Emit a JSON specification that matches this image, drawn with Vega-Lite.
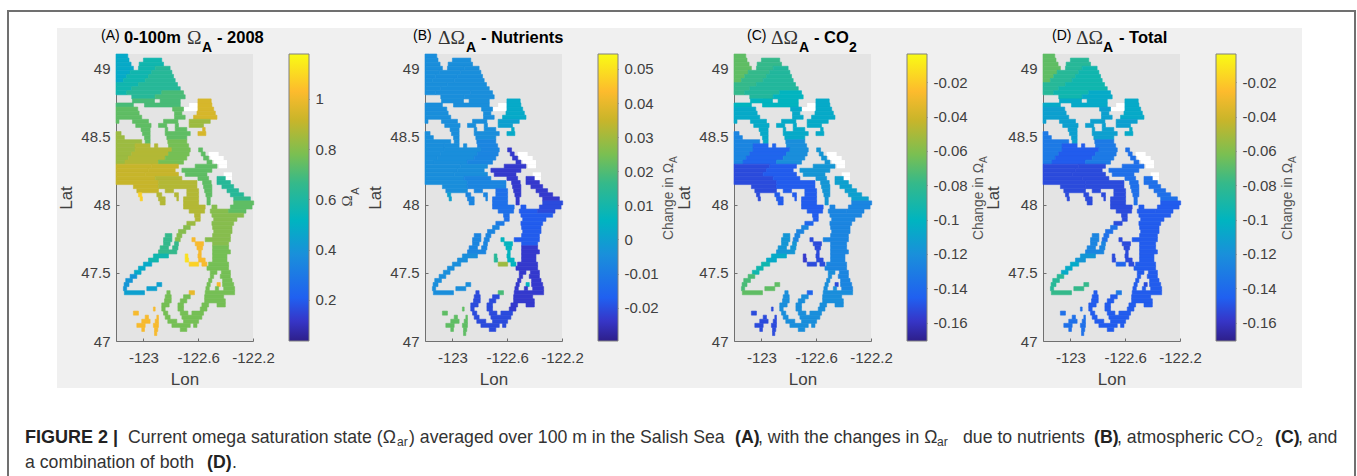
{"$schema":"https://vega.github.io/schema/vega-lite/v6.json","background":"white","padding":{"left":0,"top":9,"right":0,"bottom":0},"spacing":36,"bounds":"flush","resolve":{"scale":{"color":"independent","stroke":"independent"}},
"config":{"view":{"stroke":null},"text":{"align":"left","baseline":"middle","font":"Liberation Sans"},"axis":{"grid":false,"labelFont":"Liberation Sans","labelFontSize":15,"labelColor":"#404040","titleFont":"Liberation Sans","titleFontSize":17,"titleFontWeight":"normal","titleColor":"#404040","domainColor":"#707070","tickColor":"#707070","tickSize":-3,"labelPadding":9,"labelFlush":false,"labelOverlap":false}},
"datasets":{
"zones":[{"z":"n1","a":0.5,"b":-0.006,"c":-0.068,"d":-0.07},{"z":"n2","a":0.57,"b":-0.006,"c":-0.08,"d":-0.085},{"z":"n3","a":0.63,"b":-0.006,"c":-0.09,"d":-0.095},{"z":"n4","a":0.68,"b":-0.006,"c":-0.098,"d":-0.103},{"z":"n5","a":0.72,"b":-0.006,"c":-0.103,"d":-0.108},{"z":"bell","a":0.93,"b":0.002,"c":-0.105,"d":-0.105},{"z":"bel2","a":0.85,"b":0.001,"c":-0.105,"d":-0.108},{"z":"j1","a":0.84,"b":-0.006,"c":-0.125,"d":-0.13},{"z":"j2","a":0.87,"b":-0.006,"c":-0.14,"d":-0.145},{"z":"j3","a":0.78,"b":-0.007,"c":-0.122,"d":-0.13},{"z":"j4","a":0.92,"b":-0.006,"c":-0.15,"d":-0.155},{"z":"j5","a":0.9,"b":-0.006,"c":-0.148,"d":-0.155},{"z":"j6","a":0.88,"b":-0.008,"c":-0.148,"d":-0.155},{"z":"w1","a":0.72,"b":-0.022,"c":-0.115,"d":-0.135},{"z":"ps","a":0.62,"b":-0.024,"c":-0.108,"d":-0.135},{"z":"ps2","a":0.67,"b":-0.024,"c":-0.11,"d":-0.135},{"z":"p","a":0.72,"b":-0.021,"c":-0.125,"d":-0.145},{"z":"adm","a":0.88,"b":-0.012,"c":-0.145,"d":-0.155},{"z":"adm2","a":0.85,"b":-0.009,"c":-0.14,"d":-0.15},{"z":"h1","a":0.8,"b":-0.008,"c":-0.125,"d":-0.135},{"z":"h2","a":0.65,"b":-0.007,"c":-0.115,"d":-0.125},{"z":"h3","a":0.56,"b":-0.006,"c":-0.105,"d":-0.115},{"z":"h4","a":0.48,"b":-0.006,"c":-0.095,"d":-0.105},{"z":"h5","a":0.4,"b":-0.006,"c":-0.075,"d":-0.085},{"z":"h6","a":0.43,"b":-0.006,"c":-0.07,"d":-0.08},{"z":"m1","a":0.8,"b":-0.017,"c":-0.128,"d":-0.145},{"z":"m2","a":0.78,"b":-0.022,"c":-0.125,"d":-0.147},{"z":"m3","a":0.76,"b":-0.023,"c":-0.123,"d":-0.147},{"z":"c1","a":0.76,"b":-0.021,"c":-0.122,"d":-0.145},{"z":"s1","a":1.02,"b":0.006,"c":-0.155,"d":-0.15},{"z":"s2","a":1.1,"b":0.03,"c":-0.155,"d":-0.14},{"z":"sy","a":1.14,"b":0.013,"c":-0.16,"d":-0.15},{"z":"s3","a":1.0,"b":0.02,"c":-0.14,"d":-0.13},{"z":"inl","a":1.1,"b":0.0,"c":-0.155,"d":-0.155},{"z":"in","a":1.03,"b":0.022,"c":-0.15,"d":-0.135}],
"flats":[{"w":-122.666,"e":-122.6,"n":48.75,"s":48.72},{"w":-122.707,"e":-122.6,"n":48.72,"s":48.69},{"w":-122.524,"e":-122.451,"n":48.39,"s":48.36},{"w":-122.512,"e":-122.414,"n":48.36,"s":48.33},{"w":-122.487,"e":-122.39,"n":48.33,"s":48.3},{"w":-122.451,"e":-122.39,"n":48.3,"s":48.27},{"w":-122.414,"e":-122.353,"n":48.24,"s":48.21},{"w":-122.414,"e":-122.353,"n":48.21,"s":48.18}],
"sea":[
{"w":-123.2,"e":-123.114,"n":49.11,"s":49.08,"z":"n1"},
{"w":-123.2,"e":-123.105,"n":49.08,"s":49.05,"z":"n1"},{"w":-123,"e":-122.866,"n":49.08,"s":49.05,"z":"n2"},
{"w":-123.2,"e":-123.09,"n":49.05,"s":49.02,"z":"n1"},{"w":-123.031,"e":-122.853,"n":49.05,"s":49.02,"z":"n2"},
{"w":-123.2,"e":-123.073,"n":49.02,"s":48.99,"z":"n1"},{"w":-123.036,"e":-122.914,"n":49.02,"s":48.99,"z":"n2"},{"w":-122.914,"e":-122.805,"n":49.02,"s":48.99,"z":"n3"},
{"w":-123.2,"e":-123.097,"n":48.99,"s":48.96,"z":"n1"},{"w":-123.097,"e":-122.939,"n":48.99,"s":48.96,"z":"n2"},{"w":-122.939,"e":-122.792,"n":48.99,"s":48.96,"z":"n3"},
{"w":-123.2,"e":-123.122,"n":48.96,"s":48.93,"z":"n1"},{"w":-123.122,"e":-122.963,"n":48.96,"s":48.93,"z":"n2"},{"w":-122.963,"e":-122.78,"n":48.96,"s":48.93,"z":"n3"},
{"w":-123.2,"e":-123.146,"n":48.93,"s":48.9,"z":"n1"},{"w":-123.146,"e":-122.987,"n":48.93,"s":48.9,"z":"n2"},{"w":-122.987,"e":-122.768,"n":48.93,"s":48.9,"z":"n3"},
{"w":-123.2,"e":-123.036,"n":48.9,"s":48.87,"z":"n2"},{"w":-123.036,"e":-122.751,"n":48.9,"s":48.87,"z":"n3"},
{"w":-123.2,"e":-123.085,"n":48.87,"s":48.84,"z":"n2"},{"w":-123.085,"e":-122.731,"n":48.87,"s":48.84,"z":"n3"},
{"w":-123.2,"e":-123.122,"n":48.84,"s":48.81,"z":"n2"},{"w":-123.122,"e":-122.866,"n":48.84,"s":48.81,"z":"n3"},{"w":-122.866,"e":-122.707,"n":48.84,"s":48.81,"z":"n4"},
{"w":-123.085,"e":-122.914,"n":48.81,"s":48.78,"z":"n3"},{"w":-122.914,"e":-122.695,"n":48.81,"s":48.78,"z":"n4"},
{"w":-123.08,"e":-122.919,"n":48.78,"s":48.75,"z":"n4"},{"w":-122.878,"e":-122.731,"n":48.78,"s":48.75,"z":"n4"},{"w":-122.602,"e":-122.505,"n":48.78,"s":48.75,"z":"bell"},
{"w":-123.2,"e":-123.073,"n":48.75,"s":48.72,"z":"n4"},{"w":-122.992,"e":-122.731,"n":48.75,"s":48.72,"z":"n4"},{"w":-122.602,"e":-122.5,"n":48.75,"s":48.72,"z":"bell"},
{"w":-123.2,"e":-123.041,"n":48.72,"s":48.69,"z":"n5"},{"w":-122.787,"e":-122.707,"n":48.72,"s":48.69,"z":"n5"},{"w":-122.602,"e":-122.487,"n":48.72,"s":48.69,"z":"bell"},
{"w":-123.2,"e":-123.031,"n":48.69,"s":48.66,"z":"n5"},{"w":-122.773,"e":-122.719,"n":48.69,"s":48.66,"z":"n5"},{"w":-122.609,"e":-122.475,"n":48.69,"s":48.66,"z":"bell"},
{"w":-123.2,"e":-123.012,"n":48.66,"s":48.63,"z":"n5"},{"w":-122.773,"e":-122.695,"n":48.66,"s":48.63,"z":"n5"},{"w":-122.634,"e":-122.463,"n":48.66,"s":48.63,"z":"bell"},
{"w":-123.2,"e":-123.178,"n":48.63,"s":48.6,"z":"n5"},{"w":-123.08,"e":-122.963,"n":48.63,"s":48.6,"z":"n5"},{"w":-122.853,"e":-122.748,"n":48.63,"s":48.6,"z":"n5"},{"w":-122.666,"e":-122.512,"n":48.63,"s":48.6,"z":"bel2"},
{"w":-123.056,"e":-122.944,"n":48.6,"s":48.57,"z":"n5"},{"w":-122.89,"e":-122.829,"n":48.6,"s":48.57,"z":"n5"},{"w":-122.768,"e":-122.744,"n":48.6,"s":48.57,"z":"n5"},{"w":-122.666,"e":-122.561,"n":48.6,"s":48.57,"z":"bel2"},
{"w":-123.017,"e":-122.951,"n":48.57,"s":48.54,"z":"n5"},{"w":-122.841,"e":-122.822,"n":48.57,"s":48.54,"z":"n5"},{"w":-122.768,"e":-122.683,"n":48.57,"s":48.54,"z":"n5"},{"w":-122.568,"e":-122.549,"n":48.57,"s":48.54,"z":"bell"},
{"w":-123.2,"e":-123.163,"n":48.54,"s":48.51,"z":"j1"},{"w":-123.007,"e":-122.951,"n":48.54,"s":48.51,"z":"n5"},{"w":-122.841,"e":-122.658,"n":48.54,"s":48.51,"z":"n5"},{"w":-122.602,"e":-122.544,"n":48.54,"s":48.51,"z":"bell"},
{"w":-123.2,"e":-123.139,"n":48.51,"s":48.48,"z":"j1"},{"w":-122.992,"e":-122.951,"n":48.51,"s":48.48,"z":"n5"},{"w":-122.829,"e":-122.683,"n":48.51,"s":48.48,"z":"n5"},
{"w":-123.2,"e":-123.012,"n":48.48,"s":48.45,"z":"j1"},{"w":-122.987,"e":-122.951,"n":48.48,"s":48.45,"z":"n5"},{"w":-122.822,"e":-122.683,"n":48.48,"s":48.45,"z":"j3"},
{"w":-123.2,"e":-123.061,"n":48.45,"s":48.42,"z":"j1"},{"w":-123.061,"e":-122.951,"n":48.45,"s":48.42,"z":"j2"},{"w":-122.919,"e":-122.895,"n":48.45,"s":48.42,"z":"j2"},{"w":-122.817,"e":-122.67,"n":48.45,"s":48.42,"z":"j3"},
{"w":-123.2,"e":-123.061,"n":48.42,"s":48.39,"z":"j1"},{"w":-123.061,"e":-122.792,"n":48.42,"s":48.39,"z":"j2"},{"w":-122.792,"e":-122.658,"n":48.42,"s":48.39,"z":"j3"},{"w":-122.597,"e":-122.568,"n":48.42,"s":48.39,"z":"w1"},
{"w":-123.2,"e":-123.085,"n":48.39,"s":48.36,"z":"j1"},{"w":-123.085,"e":-122.817,"n":48.39,"s":48.36,"z":"j2"},{"w":-122.817,"e":-122.666,"n":48.39,"s":48.36,"z":"j3"},{"w":-122.578,"e":-122.549,"n":48.39,"s":48.36,"z":"w1"},
{"w":-123.2,"e":-123.11,"n":48.36,"s":48.33,"z":"j1"},{"w":-123.11,"e":-122.841,"n":48.36,"s":48.33,"z":"j2"},{"w":-122.841,"e":-122.683,"n":48.36,"s":48.33,"z":"j3"},{"w":-122.561,"e":-122.524,"n":48.36,"s":48.33,"z":"w1"},
{"w":-123.2,"e":-123.134,"n":48.33,"s":48.3,"z":"j1"},{"w":-123.134,"e":-122.89,"n":48.33,"s":48.3,"z":"j2"},{"w":-122.89,"e":-122.707,"n":48.33,"s":48.3,"z":"j3"},{"w":-122.536,"e":-122.5,"n":48.33,"s":48.3,"z":"w1"},
{"w":-123.2,"e":-122.939,"n":48.3,"s":48.27,"z":"j4"},{"w":-122.939,"e":-122.744,"n":48.3,"s":48.27,"z":"j5"},{"w":-122.622,"e":-122.463,"n":48.3,"s":48.27,"z":"w1"},
{"w":-123.2,"e":-122.963,"n":48.27,"s":48.24,"z":"j4"},{"w":-122.963,"e":-122.768,"n":48.27,"s":48.24,"z":"j5"},{"w":-122.719,"e":-122.5,"n":48.27,"s":48.24,"z":"w1"},
{"w":-123.2,"e":-122.987,"n":48.24,"s":48.21,"z":"j4"},{"w":-122.987,"e":-122.744,"n":48.24,"s":48.21,"z":"j5"},{"w":-122.695,"e":-122.536,"n":48.24,"s":48.21,"z":"w1"},
{"w":-123.2,"e":-122.914,"n":48.21,"s":48.18,"z":"j4"},{"w":-122.914,"e":-122.719,"n":48.21,"s":48.18,"z":"j6"},{"w":-122.602,"e":-122.524,"n":48.21,"s":48.18,"z":"w1"},{"w":-122.463,"e":-122.402,"n":48.21,"s":48.18,"z":"ps"},
{"w":-123.2,"e":-122.89,"n":48.18,"s":48.15,"z":"j4"},{"w":-122.89,"e":-122.609,"n":48.18,"s":48.15,"z":"j6"},{"w":-122.568,"e":-122.505,"n":48.18,"s":48.15,"z":"w1"},{"w":-122.463,"e":-122.365,"n":48.18,"s":48.15,"z":"ps"},
{"w":-123.073,"e":-122.89,"n":48.15,"s":48.12,"z":"j4"},{"w":-122.89,"e":-122.609,"n":48.15,"s":48.12,"z":"j6"},{"w":-122.561,"e":-122.5,"n":48.15,"s":48.12,"z":"w1"},{"w":-122.427,"e":-122.341,"n":48.15,"s":48.12,"z":"ps"},
{"w":-123.048,"e":-122.89,"n":48.12,"s":48.09,"z":"j4"},{"w":-122.841,"e":-122.78,"n":48.12,"s":48.09,"z":"j6"},{"w":-122.683,"e":-122.597,"n":48.12,"s":48.09,"z":"adm"},{"w":-122.553,"e":-122.5,"n":48.12,"s":48.09,"z":"w1"},{"w":-122.39,"e":-122.305,"n":48.12,"s":48.09,"z":"ps"},
{"w":-123.036,"e":-123.012,"n":48.09,"s":48.06,"z":"inl"},{"w":-122.902,"e":-122.866,"n":48.09,"s":48.06,"z":"j6"},{"w":-122.773,"e":-122.744,"n":48.09,"s":48.06,"z":"j6"},{"w":-122.683,"e":-122.597,"n":48.09,"s":48.06,"z":"adm"},{"w":-122.544,"e":-122.5,"n":48.09,"s":48.06,"z":"w1"},{"w":-122.365,"e":-122.268,"n":48.09,"s":48.06,"z":"ps"},
{"w":-123.024,"e":-123.007,"n":48.06,"s":48.03,"z":"inl"},{"w":-122.89,"e":-122.841,"n":48.06,"s":48.03,"z":"j6"},{"w":-122.756,"e":-122.744,"n":48.06,"s":48.03,"z":"j6"},{"w":-122.707,"e":-122.597,"n":48.06,"s":48.03,"z":"adm"},{"w":-122.536,"e":-122.512,"n":48.06,"s":48.03,"z":"w1"},{"w":-122.341,"e":-122.219,"n":48.06,"s":48.03,"z":"ps2"},
{"w":-122.878,"e":-122.841,"n":48.03,"s":48.0,"z":"j6"},{"w":-122.707,"e":-122.597,"n":48.03,"s":48.0,"z":"adm"},{"w":-122.536,"e":-122.512,"n":48.03,"s":48.0,"z":"w1"},{"w":-122.341,"e":-122.195,"n":48.03,"s":48.0,"z":"p"},
{"w":-122.707,"e":-122.549,"n":48.0,"s":47.97,"z":"adm"},{"w":-122.5,"e":-122.463,"n":48.0,"s":47.97,"z":"m1"},{"w":-122.365,"e":-122.207,"n":48.0,"s":47.97,"z":"p"},
{"w":-122.666,"e":-122.553,"n":47.97,"s":47.94,"z":"adm"},{"w":-122.512,"e":-122.378,"n":47.97,"s":47.94,"z":"m1"},{"w":-122.378,"e":-122.251,"n":47.97,"s":47.94,"z":"p"},
{"w":-122.627,"e":-122.585,"n":47.94,"s":47.91,"z":"adm"},{"w":-122.5,"e":-122.268,"n":47.94,"s":47.91,"z":"m1"},
{"w":-122.622,"e":-122.585,"n":47.91,"s":47.88,"z":"adm"},{"w":-122.487,"e":-122.317,"n":47.91,"s":47.88,"z":"m1"},
{"w":-122.683,"e":-122.622,"n":47.88,"s":47.85,"z":"adm2"},{"w":-122.5,"e":-122.341,"n":47.88,"s":47.85,"z":"m1"},
{"w":-122.707,"e":-122.658,"n":47.85,"s":47.82,"z":"h1"},{"w":-122.495,"e":-122.353,"n":47.85,"s":47.82,"z":"m1"},
{"w":-122.744,"e":-122.69,"n":47.82,"s":47.79,"z":"h1"},{"w":-122.487,"e":-122.353,"n":47.82,"s":47.79,"z":"m1"},
{"w":-122.841,"e":-122.792,"n":47.79,"s":47.76,"z":"h2"},{"w":-122.756,"e":-122.719,"n":47.79,"s":47.76,"z":"h1"},{"w":-122.495,"e":-122.365,"n":47.79,"s":47.76,"z":"m1"},
{"w":-122.853,"e":-122.792,"n":47.76,"s":47.73,"z":"h2"},{"w":-122.768,"e":-122.731,"n":47.76,"s":47.73,"z":"h1"},{"w":-122.646,"e":-122.622,"n":47.76,"s":47.73,"z":"s1"},{"w":-122.549,"e":-122.365,"n":47.76,"s":47.73,"z":"m1"},
{"w":-122.853,"e":-122.805,"n":47.73,"s":47.7,"z":"h2"},{"w":-122.773,"e":-122.744,"n":47.73,"s":47.7,"z":"h2"},{"w":-122.622,"e":-122.561,"n":47.73,"s":47.7,"z":"s1"},{"w":-122.495,"e":-122.378,"n":47.73,"s":47.7,"z":"m1"},
{"w":-122.878,"e":-122.817,"n":47.7,"s":47.67,"z":"h2"},{"w":-122.787,"e":-122.748,"n":47.7,"s":47.67,"z":"h2"},{"w":-122.609,"e":-122.568,"n":47.7,"s":47.67,"z":"s1"},{"w":-122.495,"e":-122.378,"n":47.7,"s":47.67,"z":"m2"},
{"w":-122.89,"e":-122.756,"n":47.67,"s":47.64,"z":"h2"},{"w":-122.597,"e":-122.578,"n":47.67,"s":47.64,"z":"s1"},{"w":-122.495,"e":-122.365,"n":47.67,"s":47.64,"z":"m2"},
{"w":-122.927,"e":-122.817,"n":47.64,"s":47.61,"z":"h3"},{"w":-122.695,"e":-122.675,"n":47.64,"s":47.61,"z":"sy"},{"w":-122.602,"e":-122.578,"n":47.64,"s":47.61,"z":"s1"},{"w":-122.495,"e":-122.39,"n":47.64,"s":47.61,"z":"m2"},
{"w":-122.963,"e":-122.89,"n":47.61,"s":47.58,"z":"h3"},{"w":-122.695,"e":-122.67,"n":47.61,"s":47.58,"z":"sy"},{"w":-122.597,"e":-122.549,"n":47.61,"s":47.58,"z":"s1"},{"w":-122.495,"e":-122.39,"n":47.61,"s":47.58,"z":"m2"},
{"w":-123,"e":-122.939,"n":47.58,"s":47.55,"z":"h4"},{"w":-122.666,"e":-122.597,"n":47.58,"s":47.55,"z":"s2"},{"w":-122.573,"e":-122.536,"n":47.58,"s":47.55,"z":"s1"},{"w":-122.524,"e":-122.378,"n":47.58,"s":47.55,"z":"m2"},
{"w":-123.036,"e":-122.987,"n":47.55,"s":47.52,"z":"h4"},{"w":-122.536,"e":-122.378,"n":47.55,"s":47.52,"z":"m2"},
{"w":-123.066,"e":-123.017,"n":47.52,"s":47.49,"z":"h4"},{"w":-122.512,"e":-122.463,"n":47.52,"s":47.49,"z":"m3"},{"w":-122.431,"e":-122.365,"n":47.52,"s":47.49,"z":"m2"},
{"w":-123.097,"e":-123.048,"n":47.49,"s":47.46,"z":"h5"},{"w":-122.512,"e":-122.487,"n":47.49,"s":47.46,"z":"m3"},{"w":-122.439,"e":-122.365,"n":47.49,"s":47.46,"z":"m2"},
{"w":-123.129,"e":-123.08,"n":47.46,"s":47.43,"z":"h5"},{"w":-122.524,"e":-122.5,"n":47.46,"s":47.43,"z":"m3"},{"w":-122.422,"e":-122.353,"n":47.46,"s":47.43,"z":"m2"},
{"w":-123.141,"e":-123.105,"n":47.43,"s":47.4,"z":"h5"},{"w":-122.902,"e":-122.866,"n":47.43,"s":47.4,"z":"h6"},{"w":-122.536,"e":-122.512,"n":47.43,"s":47.4,"z":"m3"},{"w":-122.463,"e":-122.439,"n":47.43,"s":47.4,"z":"s1"},{"w":-122.422,"e":-122.341,"n":47.43,"s":47.4,"z":"m2"},
{"w":-123.146,"e":-123.122,"n":47.4,"s":47.37,"z":"h5"},{"w":-122.975,"e":-122.902,"n":47.4,"s":47.37,"z":"h6"},{"w":-122.544,"e":-122.519,"n":47.4,"s":47.37,"z":"m3"},{"w":-122.475,"e":-122.451,"n":47.4,"s":47.37,"z":"m3"},{"w":-122.414,"e":-122.334,"n":47.4,"s":47.37,"z":"m2"},
{"w":-123.139,"e":-122.992,"n":47.37,"s":47.34,"z":"h6"},{"w":-122.829,"e":-122.805,"n":47.37,"s":47.34,"z":"c1"},{"w":-122.666,"e":-122.627,"n":47.37,"s":47.34,"z":"s3"},{"w":-122.549,"e":-122.334,"n":47.37,"s":47.34,"z":"m3"},
{"w":-122.841,"e":-122.797,"n":47.34,"s":47.31,"z":"c1"},{"w":-122.707,"e":-122.658,"n":47.34,"s":47.31,"z":"c1"},{"w":-122.553,"e":-122.414,"n":47.34,"s":47.31,"z":"m3"},
{"w":-122.846,"e":-122.797,"n":47.31,"s":47.28,"z":"c1"},{"w":-122.731,"e":-122.683,"n":47.31,"s":47.28,"z":"c1"},{"w":-122.553,"e":-122.402,"n":47.31,"s":47.28,"z":"m3"},
{"w":-122.866,"e":-122.812,"n":47.28,"s":47.25,"z":"c1"},{"w":-122.748,"e":-122.707,"n":47.28,"s":47.25,"z":"c1"},{"w":-122.573,"e":-122.524,"n":47.28,"s":47.25,"z":"m3"},{"w":-122.463,"e":-122.402,"n":47.28,"s":47.25,"z":"m3"},
{"w":-122.927,"e":-122.914,"n":47.25,"s":47.22,"z":"in"},{"w":-122.866,"e":-122.841,"n":47.25,"s":47.22,"z":"c1"},{"w":-122.748,"e":-122.707,"n":47.25,"s":47.22,"z":"c1"},{"w":-122.585,"e":-122.536,"n":47.25,"s":47.22,"z":"m3"},
{"w":-123.073,"e":-123.036,"n":47.22,"s":47.19,"z":"in"},{"w":-122.853,"e":-122.822,"n":47.22,"s":47.19,"z":"c1"},{"w":-122.731,"e":-122.675,"n":47.22,"s":47.19,"z":"c1"},{"w":-122.646,"e":-122.561,"n":47.22,"s":47.19,"z":"c1"},
{"w":-122.987,"e":-122.963,"n":47.19,"s":47.16,"z":"in"},{"w":-122.902,"e":-122.89,"n":47.19,"s":47.16,"z":"in"},{"w":-122.841,"e":-122.805,"n":47.19,"s":47.16,"z":"c1"},{"w":-122.719,"e":-122.573,"n":47.19,"s":47.16,"z":"c1"},
{"w":-123.012,"e":-122.951,"n":47.16,"s":47.13,"z":"in"},{"w":-122.914,"e":-122.89,"n":47.16,"s":47.13,"z":"in"},{"w":-122.822,"e":-122.756,"n":47.16,"s":47.13,"z":"c1"},{"w":-122.707,"e":-122.597,"n":47.16,"s":47.13,"z":"c1"},
{"w":-123.048,"e":-122.987,"n":47.13,"s":47.1,"z":"in"},{"w":-122.927,"e":-122.89,"n":47.13,"s":47.1,"z":"in"},{"w":-122.792,"e":-122.658,"n":47.13,"s":47.1,"z":"c1"},{"w":-122.634,"e":-122.609,"n":47.13,"s":47.1,"z":"c1"},
{"w":-123.012,"e":-122.992,"n":47.1,"s":47.07,"z":"in"},{"w":-122.919,"e":-122.895,"n":47.1,"s":47.07,"z":"in"},{"w":-122.731,"e":-122.683,"n":47.1,"s":47.07,"z":"c1"},
{"w":-122.919,"e":-122.902,"n":47.07,"s":47.04,"z":"in"}
]},
"hconcat":[
{"width":80,"height":287,"data":{"values":[{}]},"layer":[
{"mark":{"type":"rect","color":"#f0f0f0"},"encoding":{"x":{"datum":57,"type":"quantitative","axis":null,"scale":{"domain":[0,80],"nice":false,"zero":false}},"x2":{"datum":1302},"y":{"datum":28,"type":"quantitative","axis":null,"scale":{"domain":[54,341],"reverse":true,"nice":false,"zero":false}},"y2":{"datum":388}}},
{"mark":{"type":"rule","color":"#707070","strokeWidth":2},"encoding":{"x":{"datum":8},"y":{"datum":10},"y2":{"datum":476}}},
{"mark":{"type":"rule","color":"#707070","strokeWidth":2},"encoding":{"x":{"datum":1355},"y":{"datum":10},"y2":{"datum":476}}},
{"mark":{"type":"rule","color":"#707070","strokeWidth":2},"encoding":{"x":{"datum":8},"x2":{"datum":1355},"y":{"datum":11}}},
{"encoding":{"y":{"datum":438}},"layer":[
{"mark":{"type":"text","text":"FIGURE 2 |","fontWeight":"bold","fontSize":18,"color":"#222"},"encoding":{"x":{"datum":25}}},
{"mark":{"type":"text","text":"Current omega saturation state (Ω","fontSize":17.7,"color":"#333"},"encoding":{"x":{"datum":128}}},
{"mark":{"type":"text","text":"ar","fontSize":12,"dy":4,"color":"#333"},"encoding":{"x":{"datum":397}}},
{"mark":{"type":"text","text":") averaged over 100 m in the Salish Sea","fontSize":17.7,"color":"#333"},"encoding":{"x":{"datum":409}}},
{"mark":{"type":"text","text":"(A)","fontWeight":"bold","fontSize":17.7,"color":"#222"},"encoding":{"x":{"datum":735}}},
{"mark":{"type":"text","text":", with the changes in Ω","fontSize":17.7,"color":"#333"},"encoding":{"x":{"datum":758}}},
{"mark":{"type":"text","text":"ar","fontSize":12,"dy":4,"color":"#333"},"encoding":{"x":{"datum":937}}},
{"mark":{"type":"text","text":"due to nutrients","fontSize":17.7,"color":"#333"},"encoding":{"x":{"datum":963}}},
{"mark":{"type":"text","text":"(B)","fontWeight":"bold","fontSize":17.7,"color":"#222"},"encoding":{"x":{"datum":1094}}},
{"mark":{"type":"text","text":", atmospheric CO","fontSize":17.7,"color":"#333"},"encoding":{"x":{"datum":1117}}},
{"mark":{"type":"text","text":"2","fontSize":12,"dy":4,"color":"#333"},"encoding":{"x":{"datum":1256}}},
{"mark":{"type":"text","text":"(C)","fontWeight":"bold","fontSize":17.7,"color":"#222"},"encoding":{"x":{"datum":1275}}},
{"mark":{"type":"text","text":", and","fontSize":17.7,"color":"#333"},"encoding":{"x":{"datum":1298}}}]},
{"encoding":{"y":{"datum":463}},"layer":[
{"mark":{"type":"text","text":"a combination of both","fontSize":17.7,"color":"#333"},"encoding":{"x":{"datum":25}}},
{"mark":{"type":"text","text":"(D)","fontWeight":"bold","fontSize":17.7,"color":"#222"},"encoding":{"x":{"datum":207}}},
{"mark":{"type":"text","text":".","fontSize":17.7,"color":"#333"},"encoding":{"x":{"datum":232}}}]}
]},

{"width":137,"height":287,"view":{"fill":"#e4e4e4"},"layer":[
{"data":{"name":"flats"},"mark":{"type":"rect","color":"white"},"encoding":{"x":{"field":"w","type":"quantitative","scale":{"domain":[-123.2,-122.2],"nice":false,"zero":false},"axis":{"title":"Lon","values":[-123,-122.8,-122.6,-122.4,-122.2],"labelExpr":"(datum.value==-122.8||datum.value==-122.4)?'':toString(datum.value)","titlePadding":6,"labelPadding":12}},"x2":{"field":"e"},"y":{"field":"n","type":"quantitative","scale":{"domain":[47,49.11],"nice":false,"zero":false},"axis":{"title":"Lat","values":[47,47.5,48,48.5,49],"labelExpr":"toString(datum.value)","titlePadding":5}},"y2":{"field":"s"}}},
{"data":{"name":"sea"},"transform":[{"lookup":"z","from":{"data":{"name":"zones"},"key":"z","fields":["a","b","c","d"]}}],"mark":{"type":"rect","strokeWidth":0.6},"encoding":{"x":{"field":"w","type":"quantitative"},"x2":{"field":"e"},"y":{"field":"n","type":"quantitative"},"y2":{"field":"s"},"color":{"field":"a","type":"quantitative","legend":null,"scale":{"type":"quantize","domain":[0.0365,1.179],"zero":false,"nice":false,"range":["#2d2498","#3330b8","#3439cd","#2b4bdc","#225ced","#2065ed","#1f70e9","#1d7ae5","#1b85e0","#1a8edb","#1496d5","#0da0cf","#06aac8","#02b4bf","#10b6ae","#22b79c","#27b898","#34b98b","#48bb77","#5fbd64","#75bf55","#87bd4e","#9cbb41","#b3b835","#c7b52b","#d6b72b","#e7b92c","#f7ba2d","#fcc22b","#fbd126","#fae01f","#f9f318"]}},"stroke":{"field":"a","type":"quantitative","legend":null,"scale":{"type":"quantize","domain":[0.0365,1.179],"zero":false,"nice":false,"range":["#2d2498","#3330b8","#3439cd","#2b4bdc","#225ced","#2065ed","#1f70e9","#1d7ae5","#1b85e0","#1a8edb","#1496d5","#0da0cf","#06aac8","#02b4bf","#10b6ae","#22b79c","#27b898","#34b98b","#48bb77","#5fbd64","#75bf55","#87bd4e","#9cbb41","#b3b835","#c7b52b","#d6b72b","#e7b92c","#f7ba2d","#fcc22b","#fbd126","#fae01f","#f9f318"]}}}},
{"data":{"values":[{}]},"encoding":{"x":{"datum":-123.2},"y":{"datum":49.11}},"layer":[
{"mark":{"type":"text","text":"(A)","fontSize":14,"dx":-15,"dy":-18}},
{"mark":{"type":"text","text":"0-100m","fontSize":16.5,"fontWeight":"bold","dx":8,"dy":-16}},
{"mark":{"type":"text","text":"Ω","fontSize":19.5,"font":"Liberation Serif","color":"#333","dx":71,"dy":-16}},
{"mark":{"type":"text","text":"A","fontSize":14,"fontWeight":"bold","dx":86,"dy":-6}},
{"mark":{"type":"text","text":"- 2008","fontSize":16.5,"fontWeight":"bold","dx":101,"dy":-16}}]}
]},
{"width":100,"height":287,"data":{"values":[{"lo":0.0365,"hi":1.179}]},"layer":[
{"mark":{"type":"rect","stroke":"#808080","color":{"gradient":"linear","x1":0,"y1":1,"x2":0,"y2":0,"stops":[{"offset":0,"color":"#2e1f8a"},{"offset":0.07,"color":"#3636c8"},{"offset":0.15,"color":"#2060f0"},{"offset":0.3,"color":"#1a8fdb"},{"offset":0.42,"color":"#00b4c0"},{"offset":0.55,"color":"#35b98a"},{"offset":0.65,"color":"#7abf52"},{"offset":0.77,"color":"#c9b52a"},{"offset":0.87,"color":"#fdbb2d"},{"offset":1,"color":"#f9fb15"}]}},"encoding":{"x":{"datum":0,"type":"quantitative","axis":null,"scale":{"domain":[0,5],"nice":false,"zero":false}},"x2":{"datum":1},"y":{"field":"lo","type":"quantitative","scale":{"domain":[0.0365,1.179],"nice":false,"zero":false},"axis":{"orient":"right","offset":-80,"title":null,"domain":false,"values":[0.2,0.4,0.6,0.8,1],"labelExpr":"toString(datum.value)"}},"y2":{"field":"hi"}}},
{"encoding":{"x":{"datum":1},"y":{"datum":0.0365}},"layer":[
{"mark":{"type":"text","text":"Ω","angle":270,"align":"center","fontSize":15,"font":"Liberation Serif","color":"#444","dx":140,"dy":38}},
{"mark":{"type":"text","text":"A","angle":270,"align":"center","fontSize":11,"color":"#444","dx":150,"dy":47}}]}
]},

{"width":137,"height":287,"view":{"fill":"#e4e4e4"},"layer":[
{"data":{"name":"flats"},"mark":{"type":"rect","color":"white"},"encoding":{"x":{"field":"w","type":"quantitative","scale":{"domain":[-123.2,-122.2],"nice":false,"zero":false},"axis":{"title":"Lon","values":[-123,-122.8,-122.6,-122.4,-122.2],"labelExpr":"(datum.value==-122.8||datum.value==-122.4)?'':toString(datum.value)","titlePadding":6,"labelPadding":12}},"x2":{"field":"e"},"y":{"field":"n","type":"quantitative","scale":{"domain":[47,49.11],"nice":false,"zero":false},"axis":{"title":"Lat","values":[47,47.5,48,48.5,49],"labelExpr":"toString(datum.value)","titlePadding":5}},"y2":{"field":"s"}}},
{"data":{"name":"sea"},"transform":[{"lookup":"z","from":{"data":{"name":"zones"},"key":"z","fields":["a","b","c","d"]}}],"mark":{"type":"rect","strokeWidth":0.6},"encoding":{"x":{"field":"w","type":"quantitative"},"x2":{"field":"e"},"y":{"field":"n","type":"quantitative"},"y2":{"field":"s"},"color":{"field":"b","type":"quantitative","legend":null,"scale":{"type":"quantize","domain":[-0.0298,0.0544],"zero":false,"nice":false,"range":["#2d2498","#3330b8","#3439cd","#2b4bdc","#225ced","#2065ed","#1f70e9","#1d7ae5","#1b85e0","#1a8edb","#1496d5","#0da0cf","#06aac8","#02b4bf","#10b6ae","#22b79c","#27b898","#34b98b","#48bb77","#5fbd64","#75bf55","#87bd4e","#9cbb41","#b3b835","#c7b52b","#d6b72b","#e7b92c","#f7ba2d","#fcc22b","#fbd126","#fae01f","#f9f318"]}},"stroke":{"field":"b","type":"quantitative","legend":null,"scale":{"type":"quantize","domain":[-0.0298,0.0544],"zero":false,"nice":false,"range":["#2d2498","#3330b8","#3439cd","#2b4bdc","#225ced","#2065ed","#1f70e9","#1d7ae5","#1b85e0","#1a8edb","#1496d5","#0da0cf","#06aac8","#02b4bf","#10b6ae","#22b79c","#27b898","#34b98b","#48bb77","#5fbd64","#75bf55","#87bd4e","#9cbb41","#b3b835","#c7b52b","#d6b72b","#e7b92c","#f7ba2d","#fcc22b","#fbd126","#fae01f","#f9f318"]}}}},
{"data":{"values":[{}]},"encoding":{"x":{"datum":-123.2},"y":{"datum":49.11}},"layer":[
{"mark":{"type":"text","text":"(B)","fontSize":14,"dx":-12,"dy":-18}},
{"mark":{"type":"text","text":"ΔΩ","fontSize":19.5,"font":"Liberation Serif","color":"#333","dx":13,"dy":-16}},
{"mark":{"type":"text","text":"A","fontSize":14,"fontWeight":"bold","dx":41,"dy":-6}},
{"mark":{"type":"text","text":"- Nutrients","fontSize":16.5,"fontWeight":"bold","dx":56,"dy":-16}}]}
]},
{"width":100,"height":287,"data":{"values":[{"lo":-0.0298,"hi":0.0544}]},"layer":[
{"mark":{"type":"rect","stroke":"#808080","color":{"gradient":"linear","x1":0,"y1":1,"x2":0,"y2":0,"stops":[{"offset":0,"color":"#2e1f8a"},{"offset":0.07,"color":"#3636c8"},{"offset":0.15,"color":"#2060f0"},{"offset":0.3,"color":"#1a8fdb"},{"offset":0.42,"color":"#00b4c0"},{"offset":0.55,"color":"#35b98a"},{"offset":0.65,"color":"#7abf52"},{"offset":0.77,"color":"#c9b52a"},{"offset":0.87,"color":"#fdbb2d"},{"offset":1,"color":"#f9fb15"}]}},"encoding":{"x":{"datum":0,"type":"quantitative","axis":null,"scale":{"domain":[0,5],"nice":false,"zero":false}},"x2":{"datum":1},"y":{"field":"lo","type":"quantitative","scale":{"domain":[-0.0298,0.0544],"nice":false,"zero":false},"axis":{"orient":"right","offset":-80,"title":null,"domain":false,"values":[-0.02,-0.01,0,0.01,0.02,0.03,0.04,0.05],"labelExpr":"toString(datum.value)"}},"y2":{"field":"hi"}}},
{"encoding":{"x":{"datum":1},"y":{"datum":-0.0298}},"layer":[
{"mark":{"type":"text","text":"Change in Ω","angle":270,"fontSize":13.8,"color":"#555","dx":101,"dy":51}},
{"mark":{"type":"text","text":"A","angle":270,"fontSize":10,"color":"#555","dx":178,"dy":56}}]}
]},

{"width":137,"height":287,"view":{"fill":"#e4e4e4"},"layer":[
{"data":{"name":"flats"},"mark":{"type":"rect","color":"white"},"encoding":{"x":{"field":"w","type":"quantitative","scale":{"domain":[-123.2,-122.2],"nice":false,"zero":false},"axis":{"title":"Lon","values":[-123,-122.8,-122.6,-122.4,-122.2],"labelExpr":"(datum.value==-122.8||datum.value==-122.4)?'':toString(datum.value)","titlePadding":6,"labelPadding":12}},"x2":{"field":"e"},"y":{"field":"n","type":"quantitative","scale":{"domain":[47,49.11],"nice":false,"zero":false},"axis":{"title":"Lat","values":[47,47.5,48,48.5,49],"labelExpr":"toString(datum.value)","titlePadding":5}},"y2":{"field":"s"}}},
{"data":{"name":"sea"},"transform":[{"lookup":"z","from":{"data":{"name":"zones"},"key":"z","fields":["a","b","c","d"]}}],"mark":{"type":"rect","strokeWidth":0.6},"encoding":{"x":{"field":"w","type":"quantitative"},"x2":{"field":"e"},"y":{"field":"n","type":"quantitative"},"y2":{"field":"s"},"color":{"field":"c","type":"quantitative","legend":null,"scale":{"type":"quantize","domain":[-0.1707,-0.0035],"zero":false,"nice":false,"range":["#2d2498","#3330b8","#3439cd","#2b4bdc","#225ced","#2065ed","#1f70e9","#1d7ae5","#1b85e0","#1a8edb","#1496d5","#0da0cf","#06aac8","#02b4bf","#10b6ae","#22b79c","#27b898","#34b98b","#48bb77","#5fbd64","#75bf55","#87bd4e","#9cbb41","#b3b835","#c7b52b","#d6b72b","#e7b92c","#f7ba2d","#fcc22b","#fbd126","#fae01f","#f9f318"]}},"stroke":{"field":"c","type":"quantitative","legend":null,"scale":{"type":"quantize","domain":[-0.1707,-0.0035],"zero":false,"nice":false,"range":["#2d2498","#3330b8","#3439cd","#2b4bdc","#225ced","#2065ed","#1f70e9","#1d7ae5","#1b85e0","#1a8edb","#1496d5","#0da0cf","#06aac8","#02b4bf","#10b6ae","#22b79c","#27b898","#34b98b","#48bb77","#5fbd64","#75bf55","#87bd4e","#9cbb41","#b3b835","#c7b52b","#d6b72b","#e7b92c","#f7ba2d","#fcc22b","#fbd126","#fae01f","#f9f318"]}}}},
{"data":{"values":[{}]},"encoding":{"x":{"datum":-123.2},"y":{"datum":49.11}},"layer":[
{"mark":{"type":"text","text":"(C)","fontSize":14,"dx":13,"dy":-18}},
{"mark":{"type":"text","text":"ΔΩ","fontSize":19.5,"font":"Liberation Serif","color":"#333","dx":37,"dy":-16}},
{"mark":{"type":"text","text":"A","fontSize":14,"fontWeight":"bold","dx":65,"dy":-6}},
{"mark":{"type":"text","text":"- CO","fontSize":16.5,"fontWeight":"bold","dx":80,"dy":-16}},
{"mark":{"type":"text","text":"2","fontSize":14,"fontWeight":"bold","dx":115,"dy":-6}}]}
]},
{"width":100,"height":287,"data":{"values":[{"lo":-0.1707,"hi":-0.0035}]},"layer":[
{"mark":{"type":"rect","stroke":"#808080","color":{"gradient":"linear","x1":0,"y1":1,"x2":0,"y2":0,"stops":[{"offset":0,"color":"#2e1f8a"},{"offset":0.07,"color":"#3636c8"},{"offset":0.15,"color":"#2060f0"},{"offset":0.3,"color":"#1a8fdb"},{"offset":0.42,"color":"#00b4c0"},{"offset":0.55,"color":"#35b98a"},{"offset":0.65,"color":"#7abf52"},{"offset":0.77,"color":"#c9b52a"},{"offset":0.87,"color":"#fdbb2d"},{"offset":1,"color":"#f9fb15"}]}},"encoding":{"x":{"datum":0,"type":"quantitative","axis":null,"scale":{"domain":[0,5],"nice":false,"zero":false}},"x2":{"datum":1},"y":{"field":"lo","type":"quantitative","scale":{"domain":[-0.1707,-0.0035],"nice":false,"zero":false},"axis":{"orient":"right","offset":-80,"title":null,"domain":false,"values":[-0.16,-0.14,-0.12,-0.1,-0.08,-0.06,-0.04,-0.02],"labelExpr":"toString(datum.value)"}},"y2":{"field":"hi"}}},
{"encoding":{"x":{"datum":1},"y":{"datum":-0.1707}},"layer":[
{"mark":{"type":"text","text":"Change in Ω","angle":270,"fontSize":13.8,"color":"#555","dx":101,"dy":52}},
{"mark":{"type":"text","text":"A","angle":270,"fontSize":10,"color":"#555","dx":178,"dy":57}}]}
]},

{"width":137,"height":287,"view":{"fill":"#e4e4e4"},"layer":[
{"data":{"name":"flats"},"mark":{"type":"rect","color":"white"},"encoding":{"x":{"field":"w","type":"quantitative","scale":{"domain":[-123.2,-122.2],"nice":false,"zero":false},"axis":{"title":"Lon","values":[-123,-122.8,-122.6,-122.4,-122.2],"labelExpr":"(datum.value==-122.8||datum.value==-122.4)?'':toString(datum.value)","titlePadding":6,"labelPadding":12}},"x2":{"field":"e"},"y":{"field":"n","type":"quantitative","scale":{"domain":[47,49.11],"nice":false,"zero":false},"axis":{"title":"Lat","values":[47,47.5,48,48.5,49],"labelExpr":"toString(datum.value)","titlePadding":5}},"y2":{"field":"s"}}},
{"data":{"name":"sea"},"transform":[{"lookup":"z","from":{"data":{"name":"zones"},"key":"z","fields":["a","b","c","d"]}}],"mark":{"type":"rect","strokeWidth":0.6},"encoding":{"x":{"field":"w","type":"quantitative"},"x2":{"field":"e"},"y":{"field":"n","type":"quantitative"},"y2":{"field":"s"},"color":{"field":"d","type":"quantitative","legend":null,"scale":{"type":"quantize","domain":[-0.1707,-0.0035],"zero":false,"nice":false,"range":["#2d2498","#3330b8","#3439cd","#2b4bdc","#225ced","#2065ed","#1f70e9","#1d7ae5","#1b85e0","#1a8edb","#1496d5","#0da0cf","#06aac8","#02b4bf","#10b6ae","#22b79c","#27b898","#34b98b","#48bb77","#5fbd64","#75bf55","#87bd4e","#9cbb41","#b3b835","#c7b52b","#d6b72b","#e7b92c","#f7ba2d","#fcc22b","#fbd126","#fae01f","#f9f318"]}},"stroke":{"field":"d","type":"quantitative","legend":null,"scale":{"type":"quantize","domain":[-0.1707,-0.0035],"zero":false,"nice":false,"range":["#2d2498","#3330b8","#3439cd","#2b4bdc","#225ced","#2065ed","#1f70e9","#1d7ae5","#1b85e0","#1a8edb","#1496d5","#0da0cf","#06aac8","#02b4bf","#10b6ae","#22b79c","#27b898","#34b98b","#48bb77","#5fbd64","#75bf55","#87bd4e","#9cbb41","#b3b835","#c7b52b","#d6b72b","#e7b92c","#f7ba2d","#fcc22b","#fbd126","#fae01f","#f9f318"]}}}},
{"data":{"values":[{}]},"encoding":{"x":{"datum":-123.2},"y":{"datum":49.11}},"layer":[
{"mark":{"type":"text","text":"(D)","fontSize":14,"dx":9,"dy":-18}},
{"mark":{"type":"text","text":"ΔΩ","fontSize":19.5,"font":"Liberation Serif","color":"#333","dx":33,"dy":-16}},
{"mark":{"type":"text","text":"A","fontSize":14,"fontWeight":"bold","dx":60,"dy":-6}},
{"mark":{"type":"text","text":"- Total","fontSize":16.5,"fontWeight":"bold","dx":76,"dy":-16}}]}
]},
{"width":100,"height":287,"data":{"values":[{"lo":-0.1707,"hi":-0.0035}]},"layer":[
{"mark":{"type":"rect","stroke":"#808080","color":{"gradient":"linear","x1":0,"y1":1,"x2":0,"y2":0,"stops":[{"offset":0,"color":"#2e1f8a"},{"offset":0.07,"color":"#3636c8"},{"offset":0.15,"color":"#2060f0"},{"offset":0.3,"color":"#1a8fdb"},{"offset":0.42,"color":"#00b4c0"},{"offset":0.55,"color":"#35b98a"},{"offset":0.65,"color":"#7abf52"},{"offset":0.77,"color":"#c9b52a"},{"offset":0.87,"color":"#fdbb2d"},{"offset":1,"color":"#f9fb15"}]}},"encoding":{"x":{"datum":0,"type":"quantitative","axis":null,"scale":{"domain":[0,5],"nice":false,"zero":false}},"x2":{"datum":1},"y":{"field":"lo","type":"quantitative","scale":{"domain":[-0.1707,-0.0035],"nice":false,"zero":false},"axis":{"orient":"right","offset":-80,"title":null,"domain":false,"values":[-0.16,-0.14,-0.12,-0.1,-0.08,-0.06,-0.04,-0.02],"labelExpr":"toString(datum.value)"}},"y2":{"field":"hi"}}},
{"encoding":{"x":{"datum":1},"y":{"datum":-0.1707}},"layer":[
{"mark":{"type":"text","text":"Change in Ω","angle":270,"fontSize":13.8,"color":"#555","dx":101,"dy":52}},
{"mark":{"type":"text","text":"A","angle":270,"fontSize":10,"color":"#555","dx":178,"dy":57}}]}
]}
]}
